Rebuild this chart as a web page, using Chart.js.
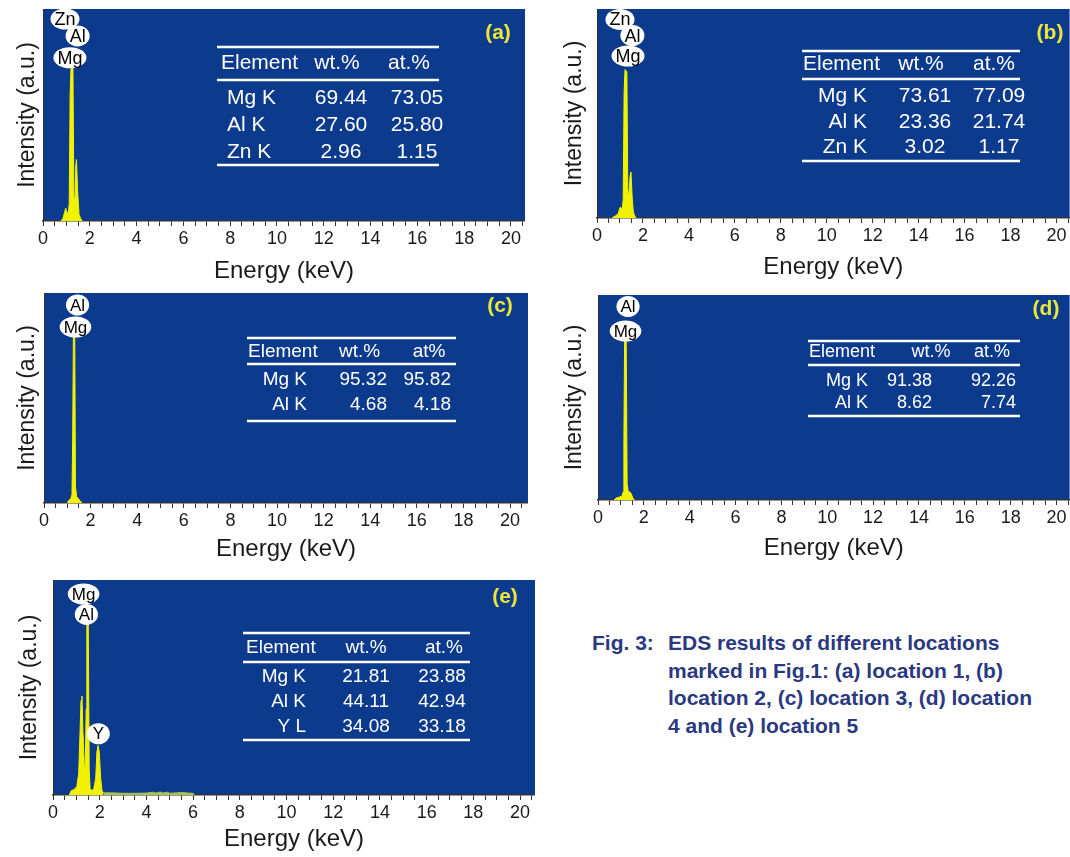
<!DOCTYPE html>
<html>
<head>
<meta charset="utf-8">
<script src="https://cdn.jsdelivr.net/npm/chart.js@4.4.0/dist/chart.umd.min.js"></script>
<style>
  body { margin: 0; background: #fff; width: 1070px; height: 857px; position: relative; overflow: hidden; font-family: "Liberation Sans", Arial, sans-serif; }
  .panel { position: absolute; }
  #caption { position: absolute; left: 592px; top: 629px; color: #2b3980; font-weight: bold; font-size: 21px; line-height: 27.5px; display: flex; }
  #caption .lead { width: 76px; flex: none; }
</style>
</head>
<body>
<canvas class="panel" id="chartA"></canvas>
<canvas class="panel" id="chartB"></canvas>
<canvas class="panel" id="chartC"></canvas>
<canvas class="panel" id="chartD"></canvas>
<canvas class="panel" id="chartE"></canvas>
<div id="caption"><span class="lead">Fig. 3:</span><span>EDS results of different locations<br>marked in Fig.1: (a) location 1, (b)<br>location 2, (c) location 3, (d) location<br>4 and (e) location 5</span></div>

<script>
// ---- spectra (energy in keV, intensity in a.u. on a 0-100 scale) ----
const energyA = [0.75, 0.85, 0.92, 0.97, 1.02, 1.08, 1.12, 1.16, 1.2, 1.28, 1.32, 1.36, 1.4, 1.43, 1.48, 1.54, 1.62, 1.68];
const countsA = [0, 1, 4, 6, 4, 4, 8, 60, 73, 72, 12, 8, 26, 29, 14, 3, 1, 0];

const energyB = [0.65, 0.8, 0.92, 1.0, 1.05, 1.1, 1.14, 1.18, 1.22, 1.3, 1.34, 1.38, 1.44, 1.48, 1.53, 1.58, 1.64, 1.7];
const countsB = [0, 1, 2, 5, 5, 4, 9, 60, 71, 70, 14, 9, 20, 22, 10, 3, 1, 0];

const energyC = [1.0, 1.08, 1.15, 1.2, 1.23, 1.26, 1.32, 1.35, 1.4, 1.48, 1.55, 1.62];
const countsC = [0, 1.5, 2, 4, 30, 79, 79, 8, 3, 2, 1, 0];

const energyD = [0.7, 0.8, 0.95, 1.05, 1.1, 1.13, 1.16, 1.23, 1.27, 1.32, 1.38, 1.45, 1.52, 1.58];
const countsD = [0, 1, 1.5, 2, 4, 30, 78, 78, 8, 4, 4, 3, 1, 0];

const energyE = [0.7, 0.78, 0.9, 1.02, 1.1, 1.16, 1.2, 1.24, 1.28, 1.34, 1.38, 1.42, 1.45, 1.51, 1.55, 1.59, 1.66, 1.75, 1.83, 1.88, 1.93, 1.98, 2.04, 2.1, 2.16];
const countsE = [0, 2, 2.5, 4, 10, 30, 44, 46, 30, 14, 12, 40, 80, 80, 12, 3, 2, 3, 8, 20, 23, 20, 8, 2, 1];
const energyTailE = [2.16, 2.5, 3, 3.5, 4, 4.3, 4.4, 4.6, 4.7, 4.9, 5.0, 5.3, 5.5, 5.8, 6.0, 6.05];
const countsTailE = [1, 1, 0.8, 0.8, 0.9, 1.3, 0.9, 1.4, 0.9, 1.3, 0.8, 1.0, 1.2, 0.9, 0.8, 0];

// ---- peak identifications ----
const peakNamesA = ['Zn', 'Al', 'Mg'];
const peakNamesB = ['Zn', 'Al', 'Mg'];
const peakNamesC = ['Al', 'Mg'];
const peakNamesD = ['Al', 'Mg'];
const peakNamesE = ['Mg', 'Al', 'Y'];

// ---- composition tables ----
const headA = ['Element', 'wt.%', 'at.%'];
const elementsA = ['Mg K', 'Al K', 'Zn K'];
const wtA = ['69.44', '27.60', '2.96'];
const atA = ['73.05', '25.80', '1.15'];

const headB = ['Element', 'wt.%', 'at.%'];
const elementsB = ['Mg K', 'Al K', 'Zn K'];
const wtB = ['73.61', '23.36', '3.02'];
const atB = ['77.09', '21.74', '1.17'];

const headC = ['Element', 'wt.%', 'at%'];
const elementsC = ['Mg K', 'Al K'];
const wtC = ['95.32', '4.68'];
const atC = ['95.82', '4.18'];

const headD = ['Element', 'wt.%', 'at.%'];
const elementsD = ['Mg K', 'Al K'];
const wtD = ['91.38', '8.62'];
const atD = ['92.26', '7.74'];

const headE = ['Element', 'wt.%', 'at.%'];
const elementsE = ['Mg K', 'Al K', 'Y L'];
const wtE = ['21.81', '44.11', '34.08'];
const atE = ['23.88', '42.94', '33.18'];

const FONT = '"Liberation Sans", Arial, sans-serif';
const BLUE = '#0c3b8e';
const YELLOW = '#f2f200';
const INK = '#1a1a1a';

function pts(xs, ys) {
    return xs.map((x, i) => ({ x: x, y: ys[i] }));
}

// layout of each panel (page pixels); label spots are in axis units
const panels = [
    {
        id: 'chartA', letter: '(a)', left: 0, top: 9, width: 525, height: 281,
        yAxisW: 43, xAxisH: 69, yPad: 14, xPad: 4, xMax: 20.6,
        series: [pts(energyA, countsA)],
        names: peakNamesA, spots: [[0.94, 95.3], [1.48, 87.3], [1.15, 77]], nameFont: 18,
        letterAt: [498, 33],
        table: {
            head: headA, rows: elementsA, wt: wtA, at: atA, font: 21,
            lines: [47, 80, 165], x0: 217, x1: 439, headY: 63, rowY: [98, 125, 152],
            headX: [221, 337, 409], rowX: [227, 'left'], wtX: [341, 'center'], atX: [417, 'center']
        }
    },
    {
        id: 'chartB', letter: '(b)', left: 550, top: 9, width: 520, height: 281,
        yAxisW: 47, xAxisH: 72, yPad: 11, xPad: 8, xMax: 20.57,
        series: [pts(energyB, countsB)],
        names: peakNamesB, spots: [[1.0, 95], [1.54, 87.3], [1.35, 77.5]], nameFont: 18,
        letterAt: [1050, 33],
        table: {
            head: headB, rows: elementsB, wt: wtB, at: atB, font: 21,
            lines: [51, 79, 161], x0: 802, x1: 1020, headY: 64, rowY: [96, 122, 147],
            headX: [803, 921, 994], rowX: [867, 'right'], wtX: [925, 'center'], atX: [999, 'center']
        }
    },
    {
        id: 'chartC', letter: '(c)', left: 0, top: 293, width: 528, height: 277,
        yAxisW: 44, xAxisH: 67, yPad: 14, xPad: 6, xMax: 20.77,
        series: [pts(energyC, countsC)],
        names: peakNamesC, spots: [[1.44, 94.3], [1.35, 83.8]], nameFont: 17,
        letterAt: [500, 306],
        table: {
            head: headC, rows: elementsC, wt: wtC, at: atC, font: 19,
            lines: [338, 364, 421], x0: 247, x1: 456, headY: 352, rowY: [380, 405],
            headX: [248, 359.5, 429], rowX: [307, 'right'], wtX: [387, 'right'], atX: [451, 'right']
        }
    },
    {
        id: 'chartD', letter: '(d)', left: 550, top: 295, width: 520, height: 275,
        yAxisW: 48, xAxisH: 70, yPad: 11, xPad: 7, xMax: 20.57,
        series: [pts(energyD, countsD)],
        names: peakNamesD, spots: [[1.31, 94.4], [1.2, 82.4]], nameFont: 17,
        letterAt: [1046, 309],
        table: {
            head: headD, rows: elementsD, wt: wtD, at: atD, font: 18,
            lines: [341, 365, 416], x0: 808, x1: 1020, headY: 352, rowY: [381, 403],
            headX: [809, 931, 992], rowX: [868, 'right'], wtX: [932, 'right'], atX: [1016, 'right']
        }
    },
    {
        id: 'chartE', letter: '(e)', left: 0, top: 580, width: 535, height: 277,
        yAxisW: 53, xAxisH: 62, yPad: 16, xPad: 3, xMax: 20.64,
        series: [pts(energyE, countsE), pts(energyTailE, countsTailE)],
        names: peakNamesE, spots: [[1.31, 93.5], [1.43, 84], [1.94, 28.5]], nameFont: 17,
        letterAt: [505, 597],
        table: {
            head: headE, rows: elementsE, wt: wtE, at: atE, font: 19,
            lines: [633, 662, 740], x0: 243, x1: 470, headY: 648, rowY: [677, 702, 727],
            headX: [246, 366, 444], rowX: [306, 'right'], wtX: [366, 'center'], atX: [442, 'center']
        }
    }
];

function edsPlugin(p) {
    return {
        id: 'eds',
        beforeDraw(chart) {
            const { ctx, chartArea: a } = chart;
            ctx.save();
            ctx.fillStyle = BLUE;
            ctx.fillRect(a.left, a.top, a.right - a.left, a.bottom - a.top);
            ctx.restore();
        },
        afterDraw(chart) {
            const { ctx, scales } = chart;
            const t = p.table;
            const ox = p.left, oy = p.top;
            ctx.save();

            // peak name bubbles
            ctx.font = p.nameFont + 'px ' + FONT;
            ctx.textAlign = 'center';
            ctx.textBaseline = 'middle';
            p.names.forEach((name, i) => {
                const cx = scales.x.getPixelForValue(p.spots[i][0]);
                const cy = scales.y.getPixelForValue(p.spots[i][1]);
                const rx = Math.max(ctx.measureText(name).width / 2 + 4, 11.5);
                ctx.fillStyle = '#fff';
                ctx.beginPath();
                ctx.ellipse(cx, cy, rx, 10.5, 0, 0, Math.PI * 2);
                ctx.fill();
                ctx.fillStyle = '#000';
                ctx.fillText(name, cx, cy + 1);
            });

            // table rules
            ctx.strokeStyle = '#fff';
            ctx.lineWidth = 2.5;
            t.lines.forEach(ly => {
                ctx.beginPath();
                ctx.moveTo(t.x0 - ox, ly - oy);
                ctx.lineTo(t.x1 - ox, ly - oy);
                ctx.stroke();
            });

            // table text
            ctx.fillStyle = '#fff';
            ctx.font = t.font + 'px ' + FONT;
            ctx.textAlign = 'left';
            ctx.fillText(t.head[0], t.headX[0] - ox, t.headY - oy);
            ctx.textAlign = 'center';
            ctx.fillText(t.head[1], t.headX[1] - ox, t.headY - oy);
            ctx.fillText(t.head[2], t.headX[2] - ox, t.headY - oy);
            t.rows.forEach((el, i) => {
                const ry = t.rowY[i] - oy;
                ctx.textAlign = t.rowX[1];
                ctx.fillText(el, t.rowX[0] - ox, ry);
                ctx.textAlign = t.wtX[1];
                ctx.fillText(t.wt[i], t.wtX[0] - ox, ry);
                ctx.textAlign = t.atX[1];
                ctx.fillText(t.at[i], t.atX[0] - ox, ry);
            });

            // panel letter
            ctx.fillStyle = '#ece63a';
            ctx.font = 'bold 21px ' + FONT;
            ctx.textAlign = 'center';
            ctx.fillText(p.letter, p.letterAt[0] - ox, p.letterAt[1] - oy);
            ctx.restore();
        }
    };
}

panels.forEach(p => {
    const canvas = document.getElementById(p.id);
    canvas.width = p.width;
    canvas.height = p.height;
    canvas.style.left = p.left + 'px';
    canvas.style.top = p.top + 'px';

    const datasets = p.series.map((s, i) => ({
        data: s,
        borderColor: i === 0 ? YELLOW : '#a7c24e',
        backgroundColor: i === 0 ? YELLOW : '#a7c24e',
        borderWidth: 1,
        fill: 'origin',
        pointRadius: 0,
        tension: 0
    }));

    new Chart(canvas, {
        type: 'line',
        data: { datasets: datasets },
        options: {
            responsive: false,
            animation: false,
            events: [],
            layout: { padding: 0 },
            plugins: { legend: { display: false }, tooltip: { enabled: false } },
            scales: {
                x: {
                    type: 'linear',
                    min: 0,
                    max: p.xMax,
                    afterFit: s => { s.height = p.xAxisH; },
                    border: { display: true, color: '#333', width: 1.5 },
                    grid: { display: true, drawOnChartArea: false, drawTicks: true, tickLength: 5, color: '#333' },
                    ticks: {
                        stepSize: 0.5,
                        autoSkip: false,
                        maxRotation: 0,
                        includeBounds: false,
                        padding: 2,
                        color: INK,
                        font: { family: FONT, size: 18 },
                        callback: v => (v % 2 === 0 ? String(v) : '')
                    },
                    title: {
                        display: true,
                        text: 'Energy (keV)',
                        color: INK,
                        font: { family: FONT, size: 24 },
                        padding: { top: 0, bottom: p.xPad }
                    }
                },
                y: {
                    min: 0,
                    max: 100,
                    afterFit: s => { s.width = p.yAxisW; },
                    border: { display: true, color: '#333', width: 1 },
                    grid: { display: false },
                    ticks: { display: false },
                    title: {
                        display: true,
                        text: 'Intensity (a.u.)',
                        color: INK,
                        font: { family: FONT, size: 23 },
                        padding: { top: p.yPad, bottom: 0 }
                    }
                }
            }
        },
        plugins: [edsPlugin(p)]
    });
});
</script>
</body>
</html>
